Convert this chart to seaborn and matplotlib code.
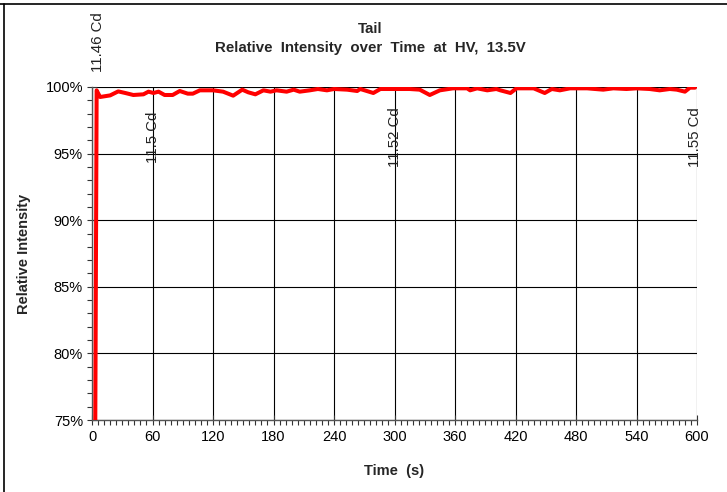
import matplotlib
matplotlib.use("Agg")
import matplotlib.pyplot as plt
from matplotlib.ticker import MultipleLocator, PercentFormatter
from matplotlib.lines import Line2D
import seaborn as sns
import pandas as pd

# ---- data ----
time_s = [3, 4.6, 8, 18, 26, 33, 41, 51, 56, 61, 66, 72, 80, 87, 95, 100, 107, 120,
          130, 140, 149, 155, 162, 170, 177, 183, 193, 200, 206, 216, 224, 233, 240,
          253, 263, 266, 279, 286, 299, 315, 325, 335, 345, 358, 372, 375, 382, 392,
          401, 405, 415, 421, 438, 449, 456, 464, 474, 491, 507, 517, 530, 540, 553,
          563, 573, 580, 588, 593, 598]
rel_intensity = [70.0, 99.75, 99.25, 99.37, 99.67, 99.55, 99.4, 99.45, 99.65, 99.55,
                 99.65, 99.4, 99.4, 99.7, 99.5, 99.5, 99.75, 99.75, 99.65, 99.35,
                 99.8, 99.6, 99.45, 99.75, 99.65, 99.75, 99.65, 99.8, 99.65, 99.75,
                 99.85, 99.75, 99.85, 99.8, 99.7, 99.85, 99.55, 99.85, 99.85, 99.85,
                 99.8, 99.4, 99.75, 99.9, 99.9, 99.75, 99.9, 99.75, 99.85, 99.75,
                 99.55, 99.9, 99.9, 99.55, 99.85, 99.75, 99.9, 99.9, 99.8, 99.9,
                 99.85, 99.9, 99.85, 99.75, 99.85, 99.8, 99.65, 99.95, 99.95]

label_texts = ["11.46 Cd", "11.5 Cd", "11.52 Cd", "11.55 Cd"]
label_times = [5.5, 60.5, 300.5, 598]
label_levels = [103.4, 96.23, 96.23, 96.23]

x_ticks = [0, 60, 120, 180, 240, 300, 360, 420, 480, 540, 600]
y_ticks = [75, 80, 85, 90, 95, 100]

title_text = "Tail\nRelative  Intensity  over  Time  at  HV,  13.5V"
x_label = "Time  (s)"
y_label = "Relative Intensity"

df = pd.DataFrame({"Time (s)": time_s, "Relative Intensity": rel_intensity})

sns.set_theme(style="white")
plt.rcParams["font.family"] = ["Liberation Sans", "DejaVu Sans"]

fig = plt.figure(figsize=(7.27, 4.92), dpi=100)
ax = fig.add_axes([92 / 727, 1 - 420 / 492, (697 - 92) / 727, (420 - 87) / 492])

sns.lineplot(data=df, x="Time (s)", y="Relative Intensity", ax=ax,
             color="#ff0000", linewidth=2.9, zorder=3)

ax.set_xlim(0, 600)
ax.set_ylim(75, 100)
ax.set_xticks(x_ticks)
ax.set_yticks(y_ticks)
ax.xaxis.set_minor_locator(MultipleLocator(6))
ax.yaxis.set_minor_locator(MultipleLocator(1))
ax.yaxis.set_major_formatter(PercentFormatter(xmax=100, decimals=0))

ax.grid(True, which="major", color="#000000", linewidth=0.8)
for s in ["top", "right"]:
    ax.spines[s].set_visible(False)
for s in ["left", "bottom"]:
    ax.spines[s].set_color("#555555")
    ax.spines[s].set_linewidth(1.0)

ax.tick_params(axis="both", which="major", direction="inout", length=7, width=0.8,
               color="#333333", labelsize=10.5, labelcolor="black",
               bottom=True, left=True)
ax.tick_params(axis="both", which="minor", direction="out", length=3.5, width=0.8,
               color="#333333", bottom=True, left=True)
ax.tick_params(axis="x", which="major", pad=4)
ax.tick_params(axis="y", which="major", pad=3)

ax.set_xlabel(x_label, fontsize=10.5, fontweight="bold", labelpad=14)
ax.set_ylabel(y_label, fontsize=10.5, fontweight="bold")
ax.yaxis.set_label_coords(-0.1, 0.5)

for txt, tx, ty in zip(label_texts, label_times, label_levels):
    ax.text(tx, ty, txt, rotation=90, ha="center", va="center",
            fontsize=10.8, color="#222222", clip_on=False, zorder=4)

fig.text(370 / 727, 1 - 38.5 / 492, title_text, ha="center", va="center",
         fontsize=10.8, fontweight="bold", linespacing=1.45)

# outer frame lines (top and left)
fig.add_artist(Line2D([0, 1], [1 - 4 / 492, 1 - 4 / 492], transform=fig.transFigure,
                      color="black", linewidth=1.2))
fig.add_artist(Line2D([4 / 727, 4 / 727], [0, 1 - 4 / 492], transform=fig.transFigure,
                      color="black", linewidth=1.2))

fig.savefig("out.png", dpi=100)
